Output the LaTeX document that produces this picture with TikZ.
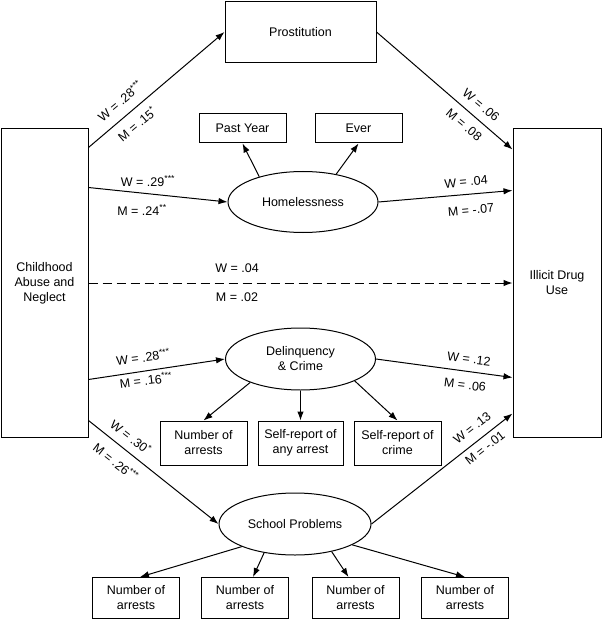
\documentclass[tikz,border=0pt]{standalone}
\usepackage{fontspec}
\setmainfont{Liberation Sans}
\usetikzlibrary{arrows.meta,shapes}
\tikzset{>={Latex[length=9pt,width=6.5pt]}}
\tikzstyle{measure}=[rectangle,draw,line width=1pt,align=center,inner sep=0pt]
\tikzstyle{latent}=[ellipse,draw,line width=1pt,align=center,inner sep=0pt]
\tikzstyle{coef}=[inner sep=0pt]

\begin{document}
\begin{tikzpicture}[x=1pt,y=-1pt,line width=1pt,font=\fontsize{12.5}{15}\selectfont]
    \useasboundingbox (0,0) rectangle (602,620);

    \node[measure,minimum width=87pt,minimum height=308pt] (cae) at (44.5,283) {Childhood\\Abuse and\\Neglect};
    \node[measure,minimum width=88pt,minimum height=308pt] (idu) at (557,283) {Illicit Drug\\Use};
    \node[measure,minimum width=151pt,minimum height=61pt] (pro) at (300.5,32) {Prostitution};

    \node[latent,minimum width=150pt,minimum height=61pt] (hom) at (303,202) {Homelessness};
    \node[latent,minimum width=150pt,minimum height=62pt] (del) at (300.5,359) {Delinquency\\\& Crime};
    \node[latent,minimum width=152pt,minimum height=62pt] (sch) at (295,524) {School Problems};

    \node[measure,minimum width=87pt,minimum height=29pt] (py) at (242.5,128.5) {Past Year};
    \node[measure,minimum width=87pt,minimum height=29pt] (ev) at (358.5,128.5) {Ever};

    \node[measure,minimum width=87pt,minimum height=44pt] (d1) at (203.5,443) {Number of\\arrests};
    \node[measure,minimum width=85pt,minimum height=44pt] (d2) at (300.5,443) {Self-report of\\any arrest};
    \node[measure,minimum width=87pt,minimum height=44pt] (d3) at (397.5,443) {Self-report of\\crime};

    \foreach \i/\x in {1/136,2/245,3/355.5,4/465} {
        \node[measure,minimum width=87pt,minimum height=41pt] (s\i) at (\x,598) {Number of\\arrests};
    };

    \draw[->] ([yshift=-19pt]cae.north east) -- (pro.west);
    \draw[->] (pro.east) -- ([yshift=-21pt]idu.north west);
    \draw[->] ([yshift=-59pt]cae.north east) -- (hom.west);
    \draw[->] (hom.east) -- ([yshift=-62pt]idu.north west);
    \draw[->,dash pattern=on 9pt off 5pt] (cae.east) -- (idu.west);
    \draw[->] ([yshift=58pt]cae.south east) -- (del.west);
    \draw[->] (del.east) -- ([yshift=60pt]idu.south west);
    \draw[->] ([yshift=17pt]cae.south east) -- (sch.west);
    \draw[->] (sch.east) -- ([yshift=24pt]idu.south west);

    \draw[->] (hom.150) -- (py.south);
    \draw[->] (hom.40) -- (ev.south);
    \draw[->] (del.205) -- (d1.north);
    \draw[->] (del.south) -- (d2.north);
    \draw[->] (del.338) -- (d3.north);
    \foreach \i/\a/\s in {1/203/4,2/223/8,3/323/-7,4/340/0} {
        \draw[->] (sch.\a) -- ([xshift=\s pt]s\i.north);
    };

    \node[coef,rotate=40] (w1) at (120,101) {W = .28\textsuperscript{***}};
    \node[coef,rotate=40] (m1) at (137,124) {M = .15\textsuperscript{*}};
    \node[coef,rotate=-40] (w2) at (481,105) {W = .06};
    \node[coef,rotate=-40] (m2) at (464,125) {M = .08};
    \node[coef] (w3) at (148,181) {W = .29\textsuperscript{***}};
    \node[coef] (m3) at (142,210) {M = .24\textsuperscript{**}};
    \node[coef,rotate=5] (w4) at (466,182) {W = .04};
    \node[coef,rotate=5] (m4) at (471,210) {M = -.07};
    \node[coef] (w5) at (237,268) {W = .04};
    \node[coef] (m5) at (237,297) {M = .02};
    \node[coef,rotate=7] (w6) at (143,357) {W = .28\textsuperscript{***}};
    \node[coef,rotate=7] (m6) at (146,380) {M = .16\textsuperscript{***}};
    \node[coef,rotate=-7] (w7) at (469,359) {W = .12};
    \node[coef,rotate=-7] (m7) at (465,385) {M = .06};
    \node[coef,rotate=-38] (w8) at (131,437) {W = .30\textsuperscript{*}};
    \node[coef,rotate=-38] (m8) at (116,462) {M = .26\textsuperscript{***}};
    \node[coef,rotate=38] (w9) at (472,428) {W = .13};
    \node[coef,rotate=38] (m9) at (485,448) {M = -.01};
\end{tikzpicture}
\end{document}
